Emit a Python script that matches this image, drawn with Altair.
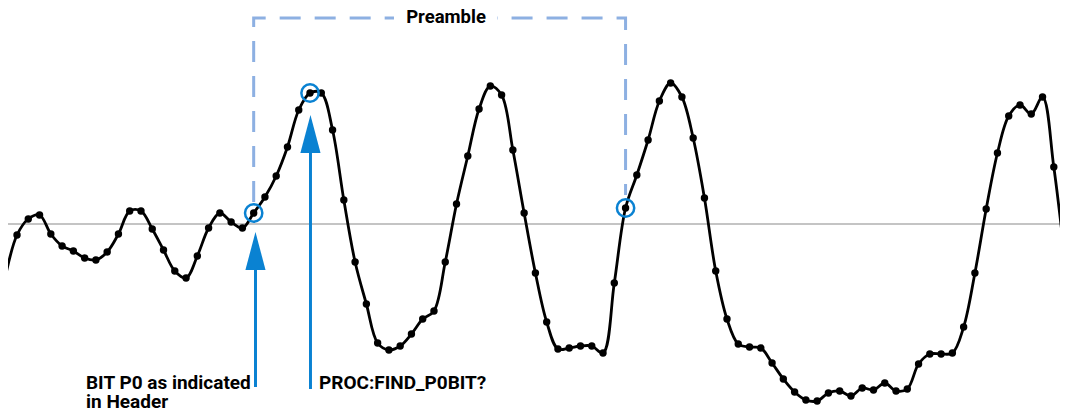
import altair as alt
import pandas as pd

# ---- waveform samples (sample number, amplitude relative to threshold) ----
sample_index = list(range(-1, 95))
amplitude = [
    -51,
    -11, 5, 9, -10, -22, -27, -34, -36, -28, -10,
    13, 13, -5, -26, -47, -54, -32, -4, 11, 2,
    -4, 11, 27, 48, 77, 114, 131, 131, 94, 24,
    -38, -80, -119, -126, -122, -110, -95, -87, -38, 20,
    68, 115, 138, 129, 74, 11, -49, -98, -125, -124,
    -122, -122, -129, -59, 16, 49, 84, 123, 141, 127,
    86, 26, -47, -95, -120, -123, -124, -139, -155, -168,
    -176, -177, -169, -167, -172, -164, -166, -159, -167, -165,
    -140, -130, -130, -129, -103, -49, 15, 71, 108, 119,
    110, 127, 57, -35,
    -126,
]
first_shown, last_shown = 0, 93

# ---- annotations (in sample / amplitude units) ----
circled_samples = [21, 26, 54]

arrow_x = [21.16, 26.04]
arrow_bottom = [-163, -165]
arrow_head_base = [-44, 73]
arrow_head_mid = [-27, 90]

bracket_left_x = [21, 21, 33.45]
bracket_left_y = [22, 206, 206]
bracket_right_x = [54, 54, 42.6]
bracket_right_y = [29, 206, 206]

label_texts = ["BIT P0 as indicated", "in Header", "PROC:FIND_P0BIT?"]
label_x = [6.12, 6.12, 26.8]
label_y = [-165, -184, -165]
title_text = ["Preamble"]
title_x = [38.07]
title_y = [201]

BLUE = "#0A82D2"
LIGHT_BLUE = "#8DB0E2"
FONT = "Roboto"

wave = pd.DataFrame({"i": sample_index, "v": amplitude})
circ = wave[wave["i"].isin(circled_samples)]
arrows = pd.DataFrame({"x": arrow_x, "y0": arrow_bottom, "y1": arrow_head_base, "ym": arrow_head_mid})
bl = pd.DataFrame({"x": bracket_left_x, "y": bracket_left_y, "o": [0, 1, 2]})
br = pd.DataFrame({"x": bracket_right_x, "y": bracket_right_y, "o": [0, 1, 2]})
labels = pd.DataFrame({"t": label_texts, "x": label_x, "y": label_y})
title = pd.DataFrame({"t": title_text, "x": title_x, "y": title_y})

xs = alt.Scale(domain=[-0.80, 92.55], nice=False, zero=False)
ys = alt.Scale(domain=[-185, 216], nice=False, zero=False)
X = lambda f: alt.X(f, type="quantitative", scale=xs, axis=None)
Y = lambda f: alt.Y(f, type="quantitative", scale=ys, axis=None)

base_rule = alt.Chart(pd.DataFrame({"v": [0]})).mark_rule(
    color="#C4C4C4", strokeWidth=2
).encode(y=Y("v"))

left_bracket = alt.Chart(bl).mark_line(
    color=LIGHT_BLUE, strokeWidth=3, strokeDash=[21, 14], strokeCap="butt"
).encode(x=X("x"), y=Y("y"), order="o:Q")
right_bracket = alt.Chart(br).mark_line(
    color=LIGHT_BLUE, strokeWidth=3, strokeDash=[21, 14], strokeCap="butt", strokeDashOffset=10
).encode(x=X("x"), y=Y("y"), order="o:Q")

line = alt.Chart(wave).mark_line(
    color="black", strokeWidth=2.8, interpolate="catmull-rom", clip=True
).encode(x=X("i"), y=Y("v"))

dots = alt.Chart(wave).transform_filter(
    (alt.datum.i >= first_shown) & (alt.datum.i <= last_shown)
).mark_point(filled=True, color="black", size=55, opacity=1, shape="circle", clip=True).encode(x=X("i"), y=Y("v"))

rings = alt.Chart(circ).mark_point(
    filled=False, color=BLUE, size=300, strokeWidth=2.5, opacity=1
).encode(x=X("i"), y=Y("v"))

shafts = alt.Chart(arrows).mark_rule(color=BLUE, strokeWidth=3).encode(
    x=X("x"), y=Y("y0"), y2="y1"
)
heads = alt.Chart(arrows).mark_point(
    shape="M0,-1L0.53,1L-0.53,1Z", size=1444, filled=True, color=BLUE, opacity=1, strokeWidth=0
).encode(x=X("x"), y=Y("ym"))

label_marks = alt.Chart(labels).mark_text(
    align="left", baseline="alphabetic", font=FONT, fontWeight="bold", fontSize=19, color="black"
).encode(x=X("x"), y=Y("y"), text="t:N")

title_mark = alt.Chart(title).mark_text(
    align="center", baseline="alphabetic", font=FONT, fontWeight="bold", fontSize=18.5, color="black"
).encode(x=X("x"), y=Y("y"), text="t:N")

chart = alt.layer(
    base_rule, left_bracket, right_bracket, line, dots, rings, shafts, heads, label_marks, title_mark
).properties(
    width=1052, height=401, padding=0,
    autosize=alt.AutoSizeParams(type="none"),
    background="white",
).configure_view(stroke=None)

chart.save("out.html", embed_options={"renderer": "svg", "actions": False})
